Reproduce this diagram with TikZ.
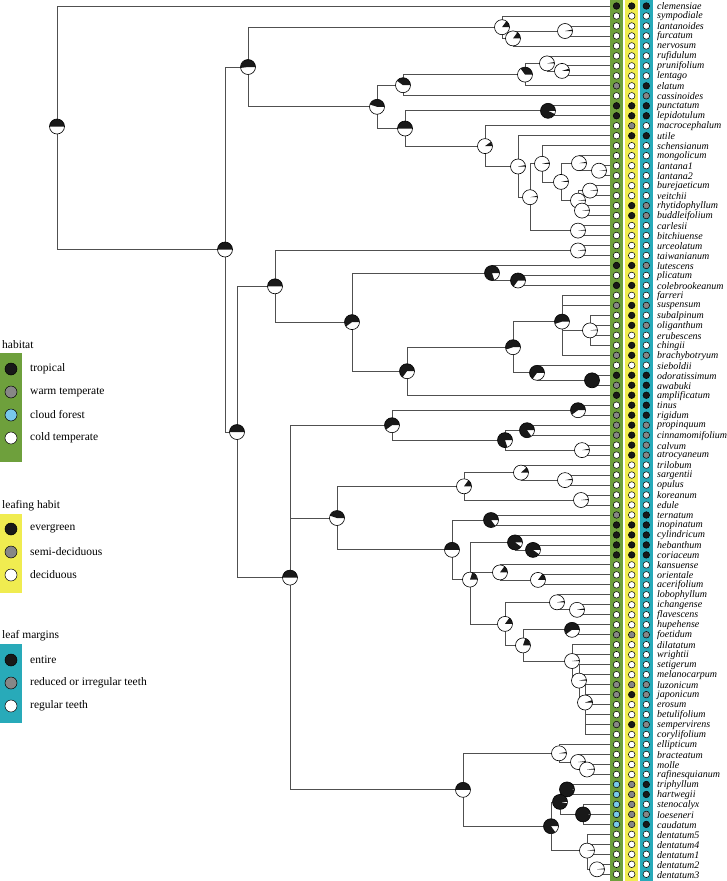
\documentclass[tikz,border=0pt]{standalone}
\usepackage{fontspec}
\setmainfont{Liberation Serif}
\definecolor{hgreen}{RGB}{110,160,60}
\definecolor{hyellow}{RGB}{240,236,80}
\definecolor{hteal}{RGB}{40,170,185}
\definecolor{cb}{RGB}{25,25,25}
\definecolor{cg}{RGB}{135,135,135}
\definecolor{cc}{RGB}{120,200,235}
\definecolor{cw}{RGB}{255,255,255}
\definecolor{brc}{RGB}{80,80,80}
\begin{document}
\begin{tikzpicture}[x=1pt,y=-1pt,
  branch/.style={draw=brc, line width=0.8pt},
  lab/.style={anchor=west, inner sep=0pt, font=\fontsize{10}{10}\selectfont\itshape},
  legtxt/.style={anchor=west, inner sep=0pt, font=\fontsize{11.5}{12}\selectfont},
  dotst/.style={draw=black, line width=0.5pt}]
\useasboundingbox (0,0) rectangle (727,881);
% data bands
\fill[hgreen] (610,0) rectangle (623.3,881);
\fill[hyellow] (625,0) rectangle (638.3,881);
\fill[hteal] (639.5,0) rectangle (653.3,881);
% tips
\foreach \i in {1,...,88} \coordinate (t\i) at (610,{6+9.98*(\i-1)});
% internal nodes
\foreach \n/\x/\y in {root/57/126.5, nB/225/249.5, nValv/248/67.0, nPseu/502/27.2, nLFN/513/38.4, nLF/565/31.0,
 nLPE/377/106.8, nLent/403/85.2, nERPL/525/74.6, nRPL/547/63.4, nPL/562/70.9, nPE/405/128.5, nPunc/548/110.8,
 nEuv/485/146.1, nUSCB/518/166.5, nSCB/530/197.2, nSMB/542/163.8, nMB/561/181.9, nMLL/579/163.2, nLL/599/170.7,
 nBVRB/578/200.6, nBV/590/190.6, nRB/582/210.6, nCB/578/230.6, nCore/237/432.0, nSfive/275/286.3, nUrc/578/250.5,
 nSfour/352/322.1, nLPC/492/273.0, nPC/518/280.5, nSthree/407/371.2, nStwo/513/347.2, nSol/562/321.6, nFour/590/330.4,
 nSOA/537/372.8, nOA/592/380.3, nBig/290/577.6, nTin/392/425.2, nTR/578/410.2, nTtwo/505/440.1, nPCN/527/430.2,
 nCA/582/450.1, nOS/337/518.0, nOpu/464/486.3, nTSO/521/472.6, nSO/565/480.1, nKE/581/500.0, nTim/452/549.8,
 nTI/491/520.0, nMid/470/579.6, nCHC/515/542.4, nHC/533/549.9, nKOA/500/572.4, nOAtwo/538/579.9, nLHF/505/623.9,
 nLIF/557/602.3, nIF/577/609.8, nHFS/523/645.4, nHF/572/629.8, nSucc/572/661.0, nX/579/680.6, nY/585/702.5,
 nOreAll/463/789.8, nDentA/559/753.3, nBMR/578/762.0, nMR/587/769.5, nOD/551/826.2, nOre/560/801.9, nTH/567/789.4,
 nSLC/583/814.4, nDent/587/850.6, nDtt/597/869.3}
 \coordinate (\n) at (\x,\y);
% branches
\foreach \p/\c in {root/t1, root/nB, nB/nValv, nB/nCore, nValv/nPseu, nValv/nLPE, nPseu/t2, nPseu/nLFN,
 nLFN/nLF, nLFN/t5, nLF/t3, nLF/t4, nLPE/nLent, nLPE/nPE, nLent/nERPL, nLent/t10, nERPL/nRPL, nERPL/t9,
 nRPL/t6, nRPL/nPL, nPL/t7, nPL/t8, nPE/nPunc, nPE/nEuv, nPunc/t11, nPunc/t12, nEuv/t13, nEuv/nUSCB,
 nUSCB/t14, nUSCB/nSCB, nSCB/nSMB, nSCB/nCB, nSMB/t15, nSMB/nMB, nMB/nMLL, nMB/nBVRB, nMLL/t16, nMLL/nLL,
 nLL/t17, nLL/t18, nBVRB/nBV, nBVRB/nRB, nBV/t19, nBV/t20, nRB/t21, nRB/t22, nCB/t23, nCB/t24,
 nCore/nSfive, nCore/nBig, nSfive/nUrc, nSfive/nSfour, nUrc/t25, nUrc/t26, nSfour/nLPC, nSfour/nSthree,
 nLPC/t27, nLPC/nPC, nPC/t28, nPC/t29, nSthree/nStwo, nSthree/t40, nStwo/nSol, nStwo/nSOA,
 nSol/t30, nSol/t31, nSol/nFour, nSol/t36, nFour/t32, nFour/t33, nFour/t34, nFour/t35, nSOA/t37, nSOA/nOA,
 nOA/t38, nOA/t39, nBig/nTin, nBig/nOS, nBig/nOreAll, nTin/nTR, nTin/nTtwo, nTR/t41, nTR/t42, nTtwo/nPCN,
 nTtwo/nCA, nPCN/t43, nPCN/t44, nCA/t45, nCA/t46, nOS/nOpu, nOS/nTim, nOpu/nTSO, nOpu/nKE, nTSO/t47,
 nTSO/nSO, nSO/t48, nSO/t49, nKE/t50, nKE/t51, nTim/nTI, nTim/nMid, nTI/t52, nTI/t53, nMid/nCHC, nMid/nKOA,
 nMid/nLHF, nCHC/t54, nCHC/nHC, nHC/t55, nHC/t56, nKOA/t57, nKOA/nOAtwo, nOAtwo/t58, nOAtwo/t59,
 nLHF/nLIF, nLHF/nHFS, nLIF/t60, nLIF/nIF, nIF/t61, nIF/t62, nHFS/nHF, nHFS/nSucc, nHF/t63, nHF/t64,
 nSucc/t65, nSucc/t66, nSucc/nX, nX/t67, nX/t68, nX/nY, nY/t69, nY/t70, nY/t71, nY/t72, nY/t73, nY/t74,
 nOreAll/nDentA, nOreAll/nOD, nDentA/t75, nDentA/nBMR, nBMR/t76, nBMR/nMR, nMR/t77, nMR/t78,
 nOD/nOre, nOD/nDent, nOre/nTH, nOre/nSLC, nTH/t79, nTH/t80, nSLC/t81, nSLC/t82, nSLC/t83,
 nDent/t84, nDent/t85, nDent/t86, nDent/nDtt, nDtt/t87, nDtt/t88}
 \draw[branch] (\p) |- (\c);
% pies
\foreach \n/\f in {root/0.5, nB/0.5, nValv/0.52, nPseu/0.15, nLFN/0.15, nLF/0.03, nLPE/0.45, nLent/0.4,
 nERPL/0.35, nRPL/0.03, nPL/0.05, nPE/0.5, nPunc/0.93, nEuv/0.1, nUSCB/0.03, nSCB/0.03, nSMB/0.03, nMB/0.03,
 nMLL/0.03, nLL/0.02, nBVRB/0.02, nBV/0.02, nRB/0.02, nCB/0.02, nCore/0.5, nSfive/0.5, nUrc/0.02, nSfour/0.6,
 nLPC/0.8, nPC/0.65, nSthree/0.65, nStwo/0.55, nSol/0.55, nFour/0.02, nSOA/0.65, nOA/1.0, nBig/0.5, nTin/0.6,
 nTR/0.6, nTtwo/0.8, nPCN/0.85, nCA/0.03, nOS/0.45, nOpu/0.15, nTSO/0.12, nSO/0.03, nKE/0.02, nTim/0.5,
 nTI/0.85, nMid/0.2, nCHC/0.9, nHC/0.9, nKOA/0.15, nOAtwo/0.15, nLHF/0.15, nLIF/0.03, nIF/0.03, nHFS/0.2,
 nHF/0.6, nSucc/0.02, nX/0.03, nY/0.05, nOreAll/0.5, nDentA/0.03, nBMR/0.02, nMR/0.02, nOD/0.85, nOre/0.97,
 nTH/0.99, nSLC/0.99, nDent/0.02, nDtt/0.02}
{
 \fill[white] (\n) circle (7.5);
 \fill[cb] (\n) -- ++(7.5,0) arc[start angle=0, delta angle={-360*\f}, radius=7.5] -- cycle;
 \draw[black, line width=0.6pt] (\n) circle (7.5);
}
% tip states and labels
\foreach \i/\nm/\a/\b/\c in {1/clemensiae/b/b/b, 2/sympodiale/w/w/w, 3/lantanoides/w/w/w, 4/furcatum/w/w/w,
 5/nervosum/w/w/w, 6/rufidulum/w/w/w, 7/prunifolium/w/w/w, 8/lentago/w/w/w, 9/elatum/g/w/b,
 10/cassinoides/w/w/g, 11/punctatum/b/b/b, 12/lepidotulum/b/b/b, 13/macrocephalum/w/g/w, 14/utile/w/b/b,
 15/schensianum/w/w/w, 16/mongolicum/w/w/w, 17/lantana1/w/w/w, 18/lantana2/w/w/w, 19/burejaeticum/w/w/w,
 20/veitchii/w/w/w, 21/rhytidophyllum/w/b/g, 22/buddleifolium/w/b/g, 23/carlesii/w/w/w, 24/bitchiuense/w/w/w,
 25/urceolatum/w/w/w, 26/taiwanianum/w/w/w, 27/lutescens/b/b/g, 28/plicatum/w/w/w, 29/colebrookeanum/b/b/w,
 30/farreri/w/w/w, 31/suspensum/g/b/g, 32/subalpinum/w/b/w, 33/oliganthum/w/b/g, 34/erubescens/w/w/w,
 35/chingii/w/b/w, 36/brachybotryum/g/b/g, 37/sieboldii/w/w/w, 38/odoratissimum/b/b/b, 39/awabuki/g/b/b,
 40/amplificatum/b/b/b, 41/tinus/w/b/b, 42/rigidum/g/b/b, 43/propinquum/g/b/g, 44/cinnamomifolium/g/b/g,
 45/calvum/w/b/g, 46/atrocyaneum/w/b/g, 47/trilobum/w/w/w, 48/sargentii/w/w/w, 49/opulus/w/w/w,
 50/koreanum/w/w/w, 51/edule/w/w/w, 52/ternatum/g/w/b, 53/inopinatum/b/b/b, 54/cylindricum/b/b/b,
 55/hebanthum/b/b/b, 56/coriaceum/b/b/b, 57/kansuense/w/w/w, 58/orientale/w/w/w, 59/acerifolium/w/w/w,
 60/lobophyllum/w/w/w, 61/ichangense/w/w/w, 62/flavescens/w/w/w, 63/hupehense/w/w/w, 64/foetidum/g/g/g,
 65/dilatatum/w/w/w, 66/wrightii/w/w/w, 67/setigerum/w/w/w, 68/melanocarpum/w/w/w, 69/luzonicum/g/g/g,
 70/japonicum/g/b/g, 71/erosum/w/w/w, 72/betulifolium/w/w/w, 73/sempervirens/g/b/g, 74/corylifolium/w/w/w,
 75/ellipticum/w/w/w, 76/bracteatum/w/w/w, 77/molle/w/w/w, 78/rafinesquianum/w/w/w, 79/triphyllum/c/g/b,
 80/hartwegii/c/g/b, 81/stenocalyx/c/g/w, 82/loeseneri/c/g/g, 83/caudatum/c/g/b, 84/dentatum5/w/w/w,
 85/dentatum4/w/w/w, 86/dentatum1/w/w/w, 87/dentatum2/w/w/w, 88/dentatum3/w/w/w}
{
 \filldraw[dotst, fill=c\a] (616.5,{6+9.98*(\i-1)}) circle (3.3);
 \filldraw[dotst, fill=c\b] (631.7,{6+9.98*(\i-1)}) circle (3.3);
 \filldraw[dotst, fill=c\c] (646.3,{6+9.98*(\i-1)}) circle (3.3);
 \node[lab] (L\i) at (657,{6.5+9.98*(\i-1)}) {\nm};
}
% legend: habitat
\node[legtxt] (hab) at (2,345) {habitat};
\fill[hgreen] (0,353) rectangle (22,462);
\foreach \yy/\cc/\tt [count=\k] in {369/cb/tropical, 392/cg/warm temperate, 415/cc/cloud forest, 438/cw/cold temperate}
{
 \filldraw[dotst, fill=\cc] (11,\yy) circle (6);
 \node[legtxt] (ha\k) at (30,\yy) {\tt};
}
% legend: leafing habit
\node[legtxt] (lea) at (2,506) {leafing habit};
\fill[hyellow] (0,514) rectangle (22,593);
\foreach \yy/\cc/\tt [count=\k] in {529/cb/evergreen, 552/cg/semi-deciduous, 575/cw/deciduous}
{
 \filldraw[dotst, fill=\cc] (11,\yy) circle (6);
 \node[legtxt] (le\k) at (30,\yy) {\tt};
}
% legend: leaf margins
\node[legtxt] (mar) at (2,636) {leaf margins};
\fill[hteal] (0,644) rectangle (22,723);
\foreach \yy/\cc/\tt [count=\k] in {660/cb/entire, 683/cg/reduced or irregular teeth, 706/cw/regular teeth}
{
 \filldraw[dotst, fill=\cc] (11,\yy) circle (6);
 \node[legtxt] (ma\k) at (30,\yy) {\tt};
}
\end{tikzpicture}
\end{document}
